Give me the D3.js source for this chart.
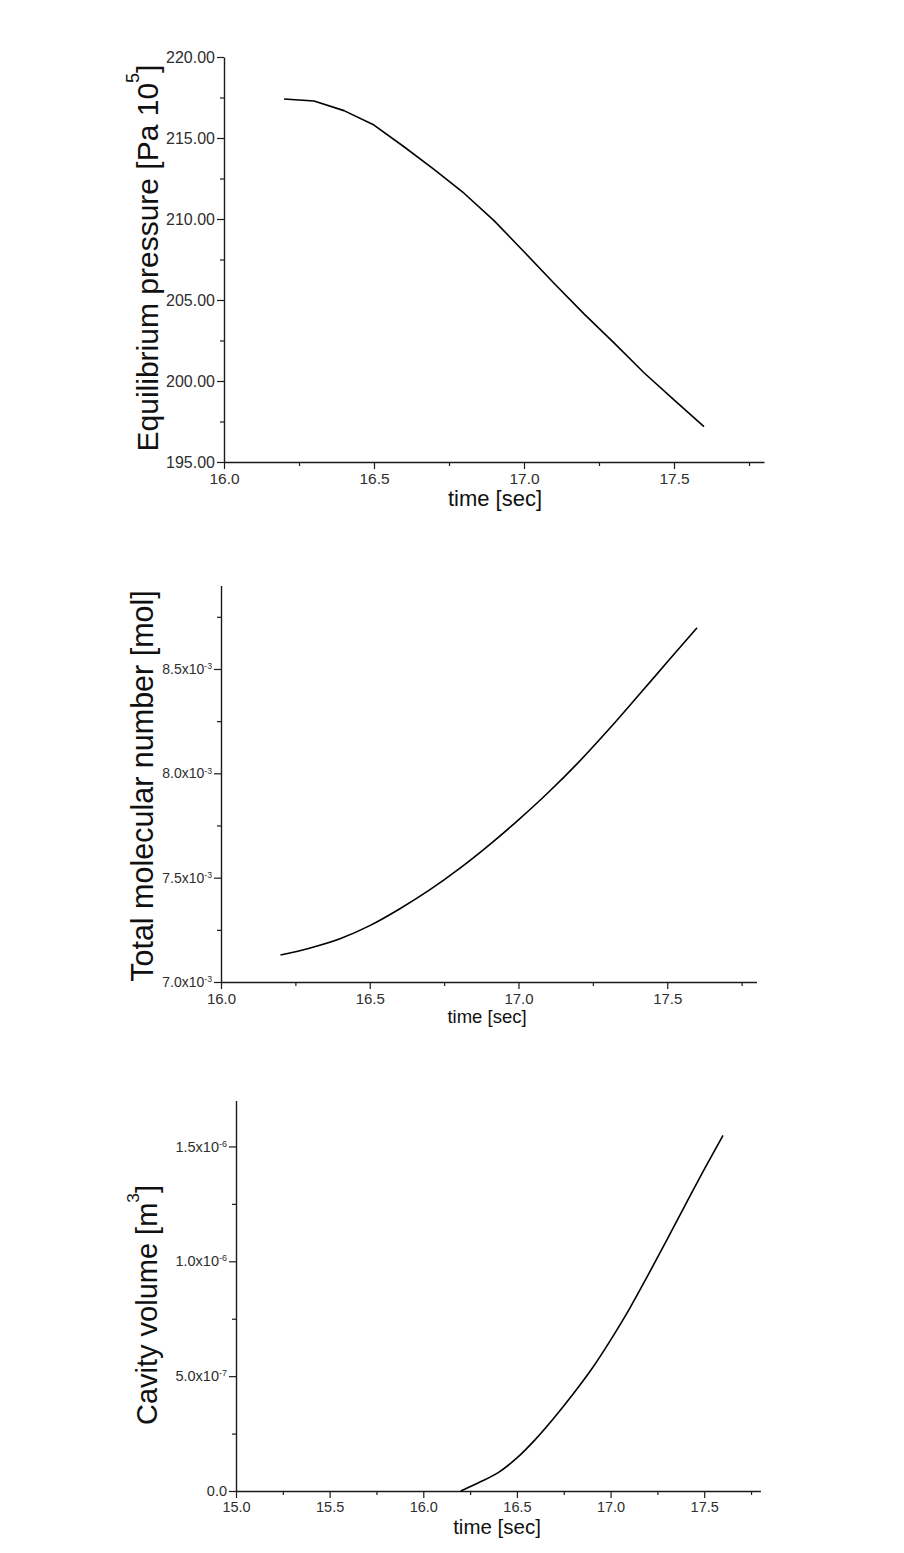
<!DOCTYPE html>
<html>
<head>
<meta charset="utf-8">
<script src="https://cdn.jsdelivr.net/npm/d3@7"></script>
<style>
  html, body { margin: 0; padding: 0; background: #fff; }
  svg { display: block; }
  text { font-family: "Liberation Sans", Arial, sans-serif; }
</style>
</head>
<body>
<svg id="chart" width="904" height="1553"></svg>
<script>
// ---------------- DATA ----------------
const time = [16.2, 16.3, 16.4, 16.5, 16.6, 16.7, 16.8, 16.9, 17.0, 17.1, 17.2, 17.3, 17.4, 17.5, 17.6];

// Equilibrium pressure [Pa 10^5]
const pressure = [217.41, 217.28, 216.69, 215.80, 214.46, 213.07, 211.59, 209.90, 207.98, 206.03, 204.14, 202.35, 200.51, 198.83, 197.18];

// Total molecular number [mol]
const molecules = [7.129e-3, 7.163e-3, 7.207e-3, 7.270e-3, 7.350e-3, 7.440e-3, 7.542e-3, 7.655e-3, 7.777e-3, 7.908e-3, 8.050e-3, 8.205e-3, 8.368e-3, 8.533e-3, 8.697e-3];

// Cavity volume [m^3]
const volume = [0, 0.038e-6, 0.080e-6, 0.144e-6, 0.226e-6, 0.320e-6, 0.422e-6, 0.532e-6, 0.657e-6, 0.792e-6, 0.940e-6, 1.092e-6, 1.247e-6, 1.400e-6, 1.548e-6];

// Tick values & labels
const timeTicksA = [16.0, 16.5, 17.0, 17.5];
const timeTickLabelsA = ["16.0", "16.5", "17.0", "17.5"];
const timeMinorA = [16.25, 16.75, 17.25, 17.75];

const timeTicksC = [15.0, 15.5, 16.0, 16.5, 17.0, 17.5];
const timeTickLabelsC = ["15.0", "15.5", "16.0", "16.5", "17.0", "17.5"];
const timeMinorC = [15.25, 15.75, 16.25, 16.75, 17.25, 17.75];

const pressureTicks = [195, 200, 205, 210, 215, 220];
const pressureTickLabels = ["195.00", "200.00", "205.00", "210.00", "215.00", "220.00"];
const pressureMinor = [197.5, 202.5, 207.5, 212.5, 217.5];

const moleculeTicks = [7.0e-3, 7.5e-3, 8.0e-3, 8.5e-3];
const moleculeTickMantissa = ["7.0x10", "7.5x10", "8.0x10", "8.5x10"];
const moleculeTickExp = ["-3", "-3", "-3", "-3"];
const moleculeMinor = [7.25e-3, 7.75e-3, 8.25e-3, 8.75e-3];

const volumeTicks = [0, 0.5e-6, 1.0e-6, 1.5e-6];
const volumeTickMantissa = ["0.0", "5.0x10", "1.0x10", "1.5x10"];
const volumeTickExp = ["", "-7", "-6", "-6"];
const volumeMinor = [0.25e-6, 0.75e-6, 1.25e-6];

// ---------------- DRAW ----------------
const svg = d3.select("#chart");
const AXIS = "#1a1a1a", LABEL = "#2e2e2e", TITLE = "#111";

function drawPanel(cfg) {
  const g = svg.append("g");
  const x = d3.scaleLinear().domain(cfg.xDomain).range(cfg.xRange);
  const y = d3.scaleLinear().domain(cfg.yDomain).range(cfg.yRange);
  const y0 = cfg.yRange[0], x0 = cfg.xRange[0];

  // minor ticks
  g.append("g").attr("transform", `translate(0,${y0})`)
    .call(d3.axisBottom(x).tickValues(cfg.xMinor).tickSize(4).tickSizeOuter(0).tickFormat(""))
    .call(s => s.select(".domain").remove())
    .selectAll("line").attr("stroke", AXIS).attr("stroke-width", 1.2);
  g.append("g").attr("transform", `translate(${x0},0)`)
    .call(d3.axisLeft(y).tickValues(cfg.yMinor).tickSize(4).tickSizeOuter(0).tickFormat(""))
    .call(s => s.select(".domain").remove())
    .selectAll("line").attr("stroke", AXIS).attr("stroke-width", 1.2);

  // major x axis
  const xa = g.append("g").attr("transform", `translate(0,${y0})`)
    .call(d3.axisBottom(x).tickValues(cfg.xTicks).tickSize(7).tickSizeOuter(0).tickPadding(cfg.xPad)
      .tickFormat((d, i) => cfg.xLabels[i]));
  xa.select(".domain").attr("stroke", AXIS).attr("stroke-width", 1.4);
  xa.selectAll(".tick line").attr("stroke", AXIS).attr("stroke-width", 1.2);
  xa.selectAll("text").attr("fill", LABEL).attr("font-size", cfg.xFont)
    .attr("font-family", '"Liberation Sans", Arial, sans-serif');

  // major y axis
  const ya = g.append("g").attr("transform", `translate(${x0},0)`)
    .call(d3.axisLeft(y).tickValues(cfg.yTicks).tickSize(7).tickSizeOuter(0).tickPadding(2)
      .tickFormat((d, i) => cfg.yMant[i]));
  ya.select(".domain").attr("stroke", AXIS).attr("stroke-width", 1.4);
  ya.selectAll(".tick line").attr("stroke", AXIS).attr("stroke-width", 1.2);
  ya.selectAll("text").attr("fill", LABEL).attr("font-size", cfg.yFont)
    .attr("font-family", '"Liberation Sans", Arial, sans-serif')
    .each(function(d, i) {
      const e = cfg.yExp ? cfg.yExp[i] : "";
      if (e) {
        const t = d3.select(this);
        t.text(cfg.yMant[i]);
        t.append("tspan").attr("font-size", cfg.yFont * 0.62).attr("dy", "-0.55em").text(e);
      }
    });

  // curve
  g.append("path")
    .datum(cfg.xs.map((t, i) => [t, cfg.ys[i]]))
    .attr("fill", "none").attr("stroke", "#000").attr("stroke-width", 1.6)
    .attr("stroke-linejoin", "round")
    .attr("d", d3.line().curve(cfg.curve).x(d => x(d[0])).y(d => y(d[1])));

  // x title
  g.append("text").attr("x", cfg.xTitlePos[0]).attr("y", cfg.xTitlePos[1])
    .attr("text-anchor", "middle").attr("font-size", cfg.xTitleFont).attr("fill", TITLE)
    .text("time [sec]");

  // y title
  const yt = g.append("text")
    .attr("transform", `translate(${cfg.yTitlePos[0]},${cfg.yTitlePos[1]}) rotate(-90)`)
    .attr("text-anchor", "middle").attr("font-size", cfg.yTitleFont).attr("fill", TITLE);
  yt.append("tspan").text(cfg.yTitle[0]);
  if (cfg.yTitle[1]) {
    yt.append("tspan").attr("font-size", cfg.yTitleFont * 0.6).attr("dy", -cfg.yTitleFont * 0.62).text(cfg.yTitle[1]);
    yt.append("tspan").attr("dy", cfg.yTitleFont * 0.62).text(cfg.yTitle[2]);
  }
}

drawPanel({
  xDomain: [16, 17.8], xRange: [224, 764],
  yDomain: [195, 220], yRange: [462, 57],
  xTicks: timeTicksA, xLabels: timeTickLabelsA, xMinor: timeMinorA,
  yTicks: pressureTicks, yMant: pressureTickLabels, yMinor: pressureMinor,
  xFont: 15.5, yFont: 16, xPad: 4,
  xs: time, ys: pressure, curve: d3.curveLinear,
  xTitlePos: [495, 506], xTitleFont: 22,
  yTitlePos: [158, 258], yTitleFont: 30,
  yTitle: ["Equilibrium pressure [Pa 10", "5", "]"]
});

drawPanel({
  xDomain: [16, 17.8], xRange: [221, 756.5],
  yDomain: [7.0e-3, 8.9e-3], yRange: [982, 585.5],
  xTicks: timeTicksA, xLabels: timeTickLabelsA, xMinor: timeMinorA,
  yTicks: moleculeTicks, yMant: moleculeTickMantissa, yExp: moleculeTickExp, yMinor: moleculeMinor,
  xFont: 15, yFont: 14, xPad: 4,
  xs: time, ys: molecules, curve: d3.curveMonotoneX,
  xTitlePos: [487, 1023], xTitleFont: 18.5,
  yTitlePos: [153, 786], yTitleFont: 30.5,
  yTitle: ["Total molecular number [mol]"]
});

drawPanel({
  xDomain: [15, 17.8], xRange: [236, 760.4],
  yDomain: [0, 1.7e-6], yRange: [1491, 1100.5],
  xTicks: timeTicksC, xLabels: timeTickLabelsC, xMinor: timeMinorC,
  yTicks: volumeTicks, yMant: volumeTickMantissa, yExp: volumeTickExp, yMinor: volumeMinor,
  xFont: 14.5, yFont: 14.5, xPad: 4,
  xs: time, ys: volume, curve: d3.curveMonotoneX,
  xTitlePos: [497, 1534], xTitleFont: 20.5,
  yTitlePos: [157, 1305], yTitleFont: 29,
  yTitle: ["Cavity volume [m", "3", "]"]
});
</script>
</body>
</html>
